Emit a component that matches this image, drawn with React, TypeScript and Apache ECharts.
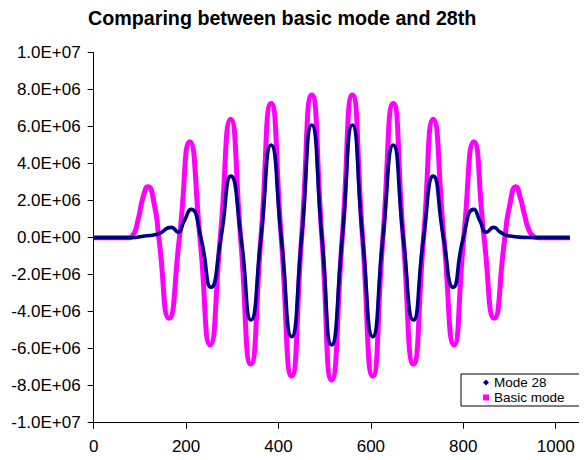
import React, { useEffect, useRef } from "react";
import * as echarts from "echarts";

const titleText = "Comparing between basic mode and 28th";
const seriesNames = ["Mode 28", "Basic mode"];

// Mode 28
const mode28X = [0, 80, 110, 139, 168, 182.5, 195, 210.6, 232, 254, 275.5, 297, 319, 340.5, 362, 384, 406, 428.5, 450, 472, 494, 515, 538, 560, 582, 604, 626, 648.5, 670, 692, 714, 735, 757, 778, 800, 823, 837, 850, 866, 880, 897, 930, 960, 1031];
const mode28Y = [0, 0, 0.09e6, 0.2e6, 0.56e6, 0.3e6, 0.85e6, 1.53e6, 0, -2.68e6, 0, 3.33e6, 0, -4.45e6, 0, 5.01e6, 0, -5.35e6, 0, 6.09e6, 0, -5.8e6, 0, 6.09e6, 0, -5.35e6, 0, 5.01e6, 0, -4.45e6, 0, 3.33e6, 0, -2.68e6, 0, 1.53e6, 0.85e6, 0.3e6, 0.56e6, 0.3e6, 0.11e6, 0.02e6, 0, 0];

// Basic mode
const basicX = [0, 72, 85, 96, 107, 117.5, 132, 141, 163, 185.5, 208, 230, 252, 274, 296.5, 318, 340, 362, 384, 406, 428.5, 450, 472, 494, 515, 538, 560, 582, 604, 626, 648.5, 670, 692, 714, 735, 758, 780, 801, 823, 845, 867, 890, 900, 914, 924, 932, 942, 952, 962, 1031];
const basicY = [0, 0, 0.15e6, 0.96e6, 2.2e6, 2.76e6, 1.68e6, 0, -4.36e6, 0, 5.19e6, 0, -5.8e6, 0, 6.4e6, 0, -6.83e6, 0, 7.26e6, 0, -7.48e6, 0, 7.71e6, 0, -7.69e6, 0, 7.71e6, 0, -7.48e6, 0, 7.26e6, 0, -6.83e6, 0, 6.4e6, 0, -5.8e6, 0, 5.19e6, 0, -4.36e6, 0, 1.68e6, 2.76e6, 2.1e6, 1.3e6, 0.42e6, 0.08e6, 0, 0];

const xTicks = [0, 200, 400, 600, 800, 1000];
const yMin = -1e7;
const yMax = 1e7;
const yStep = 2e6;

const FONT = "'Liberation Sans', Arial, sans-serif";

function sci(v: number): string {
  const r = Math.round(v);
  if (r === 0) return "0.0E+00";
  const sign = r < 0 ? "-" : "";
  const a = Math.abs(r);
  let e = Math.floor(Math.log10(a) + 1e-9);
  let m = a / Math.pow(10, e);
  if (Number(m.toFixed(1)) >= 10) {
    e += 1;
    m = m / 10;
  }
  const es = (e < 0 ? "-" : "+") + String(Math.abs(e)).padStart(2, "0");
  return sign + m.toFixed(1) + "E" + es;
}

export default function App() {
  const ref = useRef<HTMLDivElement>(null);
  useEffect(() => {
    if (!ref.current) return;
    const chart = echarts.init(ref.current, null, { renderer: "svg" });
    const pairs = (xs: number[], ys: number[]) => xs.map((x, i) => [x, ys[i]]);
    chart.setOption({
      animation: false,
      backgroundColor: "#fff",
      title: {
        text: titleText,
        left: 88,
        top: 8,
        padding: 0,
        textStyle: { fontFamily: FONT, fontSize: 19.7, fontWeight: "bold", color: "#000" },
      },
      legend: {
        orient: "vertical",
        left: 461,
        top: 374,
        padding: [1, 16, 1, 22],
        itemGap: 0,
        itemWidth: 6,
        itemHeight: 6,
        backgroundColor: "#fff",
        borderColor: "#000",
        borderWidth: 1,
        borderRadius: 0,
        z: 10,
        textStyle: { fontFamily: FONT, fontSize: 13.5, color: "#000", lineHeight: 15 },
        data: [
          { name: seriesNames[0], icon: "diamond", itemStyle: { color: "#000080" } },
          { name: seriesNames[1], icon: "rect", itemStyle: { color: "#ff00ff" } },
        ],
      },
      grid: { left: 93.7, right: 0, top: 52.7, bottom: 37.3, containLabel: false },
      xAxis: {
        type: "value",
        min: 0,
        max: 1067.8,
        interval: 200,
        splitLine: { show: false },
        axisLine: { onZero: false, lineStyle: { color: "#000", width: 1 } },
        axisTick: { length: 6, lineStyle: { color: "#000" } },
        axisLabel: {
          showMaxLabel: false,
          margin: 15,
          fontFamily: FONT,
          fontSize: 17,
          color: "#000",
          formatter: (v: number) => (xTicks.indexOf(Math.round(v)) >= 0 ? String(Math.round(v)) : ""),
        },
      },
      yAxis: {
        type: "value",
        min: yMin,
        max: yMax,
        interval: yStep,
        splitLine: { show: false },
        axisLine: { show: true, onZero: false, lineStyle: { color: "#000", width: 1 } },
        axisTick: { show: true, length: 6, lineStyle: { color: "#000" } },
        axisLabel: { margin: 13, fontFamily: FONT, fontSize: 17, color: "#000", formatter: sci },
      },
      series: [
        {
          name: seriesNames[1],
          type: "line",
          data: pairs(basicX, basicY),
          smooth: 0.6,
          showSymbol: false,
          symbol: "rect",
          itemStyle: { color: "#ff00ff" },
          lineStyle: { color: "#ff00ff", width: 5 },
          z: 2,
        },
        {
          name: seriesNames[0],
          type: "line",
          data: pairs(mode28X, mode28Y),
          smooth: 0.6,
          showSymbol: false,
          symbol: "diamond",
          itemStyle: { color: "#000080" },
          lineStyle: { color: "#000080", width: 3.6 },
          z: 3,
        },
      ],
    });
    return () => chart.dispose();
  }, []);
  return <div ref={ref} style={{ width: 587, height: 460, margin: -8 }} />;
}
